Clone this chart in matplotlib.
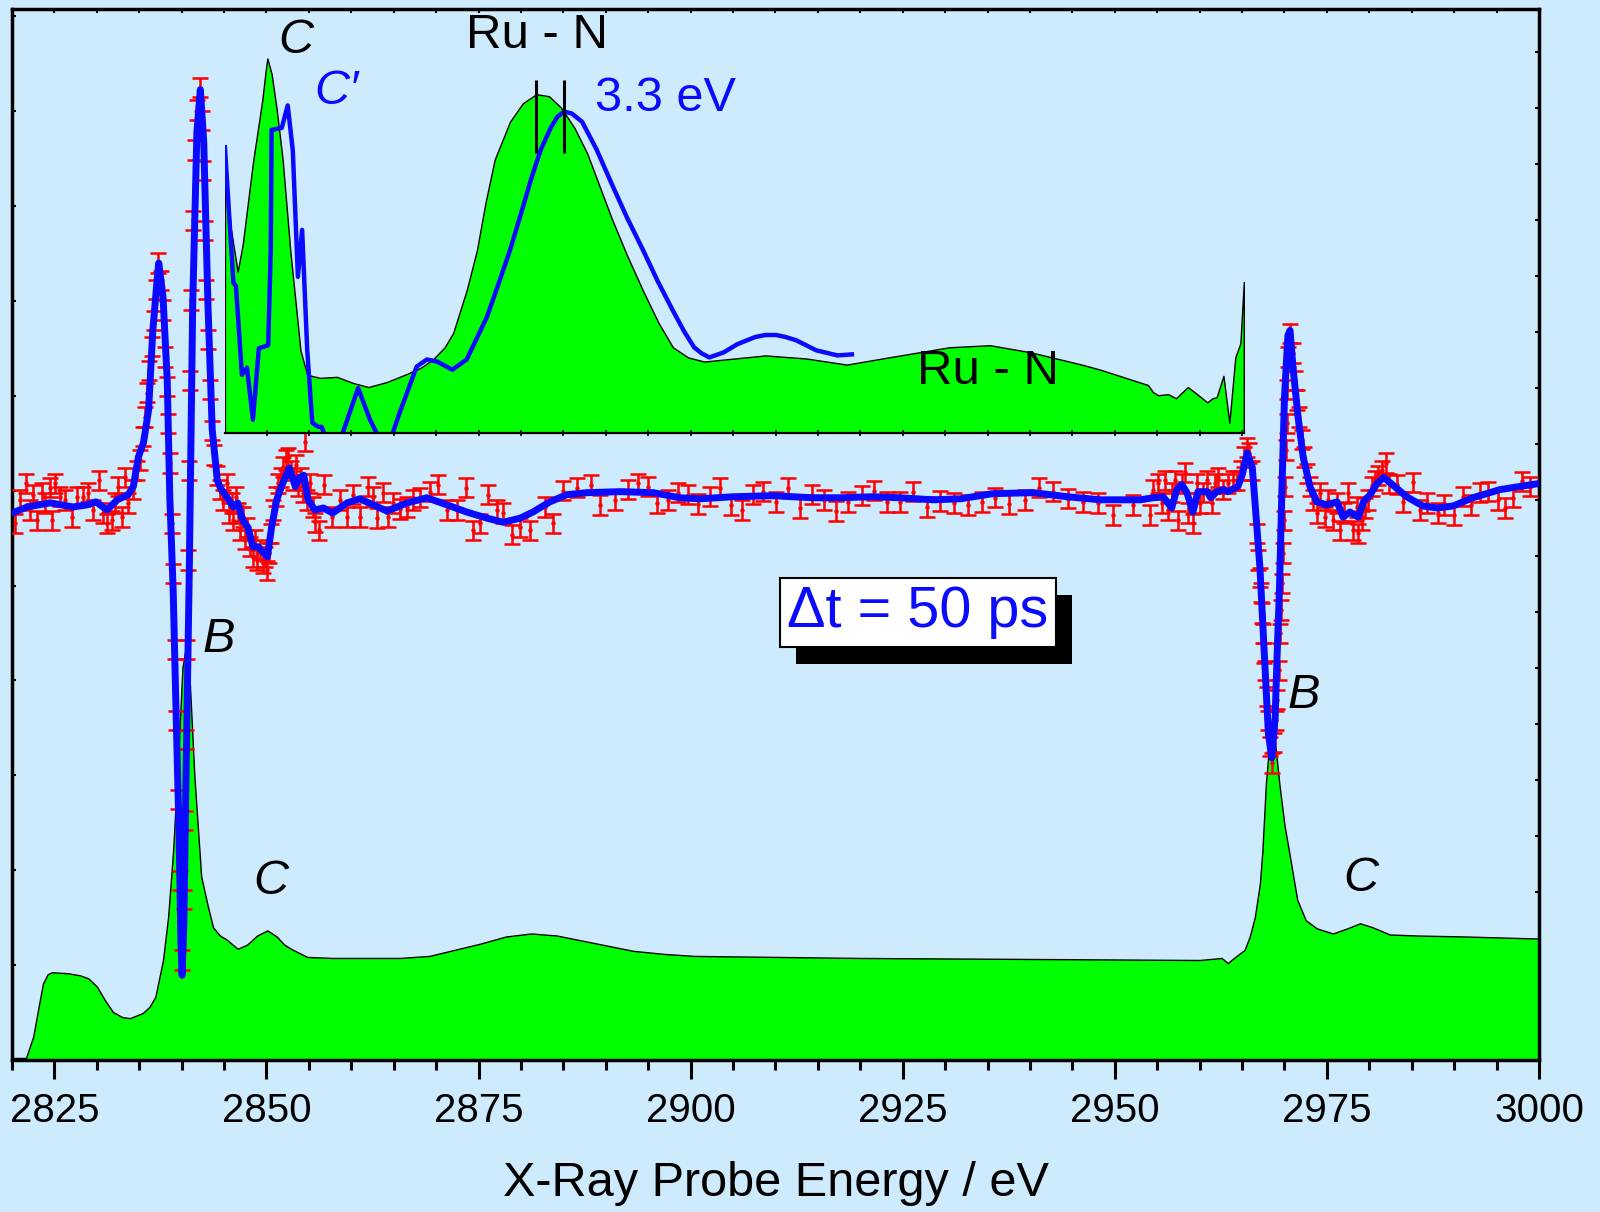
import numpy as np
import matplotlib.pyplot as plt
from matplotlib.ticker import MultipleLocator
import matplotlib.patheffects as pe

plt.rcParams['font.family'] = ['Liberation Sans', 'DejaVu Sans']

BG = '#cdebfc'
GREEN = '#00ff00'
BLUE = '#0a0aff'
RED = '#ff0000'

# ground state spectrum (main axes)
gs_e = [2820.0, 2821.65, 2822.5, 2823.2, 2823.65, 2824.2, 2824.7, 2826.6, 2828.0, 2829.0,
        2830.0, 2831.0, 2831.9, 2833.0, 2833.9, 2835.4, 2836.2, 2836.9, 2837.8, 2838.4,
        2839.0, 2839.6, 2840.1, 2840.5, 2840.9, 2841.5, 2842.3, 2843.1, 2843.7, 2844.5,
        2845.3, 2846.6, 2847.7, 2848.9, 2850.1, 2851.2, 2852.1, 2853.1, 2854.8, 2857.8,
        2865.7, 2869.2, 2872.2, 2875.2, 2878.2, 2881.2, 2884.2, 2887.2, 2890.2, 2893.2,
        2896.8, 2900.4, 2920.0, 2940.0, 2960.0, 2962.6, 2963.3, 2964.2, 2965.3, 2965.9,
        2966.5, 2967.1, 2967.4, 2967.8, 2968.2, 2968.5, 2968.9, 2969.4, 2970.0, 2970.5,
        2971.5, 2972.5, 2973.8, 2975.7, 2977.4, 2978.9, 2980.4, 2982.4, 2985.6, 2991.5,
        3000.0]
gs_y = [0.02, 0.02, 0.23, 0.55, 0.75, 0.84, 0.86, 0.85, 0.83, 0.80,
        0.72, 0.58, 0.47, 0.42, 0.41, 0.46, 0.52, 0.62, 0.98, 1.40,
        2.06, 3.00, 3.85, 4.05, 3.80, 2.78, 1.80, 1.50, 1.30, 1.22,
        1.18, 1.09, 1.13, 1.22, 1.27, 1.21, 1.13, 1.08, 1.01, 1.00,
        1.00, 1.02, 1.08, 1.14, 1.21, 1.24, 1.22, 1.17, 1.12, 1.07,
        1.04, 1.02, 1.00, 0.99, 0.98, 1.00, 0.95, 1.01, 1.08, 1.21,
        1.40, 1.73, 2.06, 2.70, 3.10, 3.28, 3.10, 2.70, 2.30, 2.06,
        1.57, 1.37, 1.29, 1.24, 1.29, 1.34, 1.30, 1.23, 1.22, 1.21,
        1.19]

# ground state, magnified (inset)
gsz_e = [2845.1, 2845.8, 2846.6, 2847.2, 2848.4, 2849.5, 2849.9, 2850.1, 2850.6, 2851.2,
         2851.9, 2852.8, 2854.0, 2854.8, 2856.3, 2858.3, 2860.2, 2862.0, 2864.2, 2866.6,
         2868.2, 2869.6, 2871.0, 2872.0, 2873.6, 2874.8, 2875.8, 2876.9, 2878.7, 2880.2,
         2881.8, 2883.3, 2884.7, 2886.3, 2887.8, 2890.7, 2892.5, 2894.4, 2896.2, 2897.9,
         2899.7, 2901.6, 2905.2, 2908.8, 2913.6, 2918.4, 2923.3, 2930.5, 2935.3, 2940.1,
         2946.1, 2948.3, 2953.9, 2954.5, 2955.1, 2956.3, 2957.2, 2958.6, 2959.7, 2960.9,
         2961.5, 2962.0, 2962.8, 2963.5, 2964.2, 2964.8, 2965.2]
gsz_y = [2.65, 2.00, 1.58, 1.85, 2.65, 3.26, 3.55, 3.67, 3.52, 3.17,
         2.68, 1.79, 0.81, 0.57, 0.54, 0.55, 0.49, 0.45, 0.50, 0.58,
         0.64, 0.72, 0.84, 0.98, 1.40, 1.79, 2.25, 2.68, 3.05, 3.23,
         3.32, 3.30, 3.19, 2.99, 2.74, 2.10, 1.74, 1.39, 1.08, 0.84,
         0.74, 0.70, 0.73, 0.76, 0.73, 0.67, 0.74, 0.84, 0.86, 0.79,
         0.67, 0.62, 0.47, 0.40, 0.37, 0.38, 0.34, 0.45, 0.38, 0.30,
         0.34, 0.35, 0.56, 0.10, 0.74, 0.88, 1.48]

# excited state (shifted) spectrum, inset
exz_e = [2845.1, 2846.1, 2846.4, 2847.1, 2847.7, 2848.4, 2849.1, 2850.2, 2850.5, 2850.6,
         2851.8, 2852.5, 2853.1, 2853.7, 2854.2, 2854.8, 2855.4, 2856.1, 2856.5, 2857.1,
         2857.8, 2858.7, 2860.8, 2862.2, 2863.4, 2864.0, 2864.6, 2865.7, 2867.7, 2868.9,
         2870.1, 2871.9, 2873.6, 2876.0, 2877.3, 2878.7, 2880.0, 2881.2, 2882.3, 2883.5,
         2884.3, 2885.1, 2886.0, 2887.2, 2888.9, 2890.7, 2892.5, 2894.4, 2896.1, 2897.9,
         2899.2, 2900.4, 2901.3, 2902.2, 2903.9, 2905.5, 2907.6, 2908.8, 2910.1, 2911.2,
         2912.4, 2914.8, 2917.3, 2919.0]
exz_y = [2.80, 1.47, 1.44, 0.57, 0.64, 0.13, 0.83, 0.86, 1.79, 2.97,
         2.99, 3.21, 2.77, 1.53, 1.99, 0.81, 0.10, 0.06, 0.06, -0.07,
         -0.26, -0.07, 0.44, 0.13, -0.07, -0.26, -0.07, 0.20, 0.65, 0.72,
         0.70, 0.62, 0.72, 1.14, 1.45, 1.79, 2.15, 2.49, 2.77, 2.99,
         3.10, 3.15, 3.13, 3.05, 2.78, 2.44, 2.11, 1.79, 1.49, 1.20,
         1.00, 0.84, 0.78, 0.74, 0.79, 0.87, 0.94, 0.96, 0.96, 0.94,
         0.91, 0.81, 0.76, 0.77]
peak_marks = [2881.8, 2885.1]

# transient fit
fit_e = [2820.0, 2821.8, 2824.5, 2827.2, 2828.8, 2829.9, 2831.2, 2832.4, 2833.7, 2834.3,
         2834.9, 2835.5, 2836.1, 2836.6, 2837.1, 2837.3, 2837.8, 2838.3, 2838.6, 2839.0,
         2839.4, 2839.7, 2839.9, 2840.05, 2840.25, 2840.5, 2840.9, 2841.3, 2841.8, 2842.2,
         2842.6, 2843.1, 2843.6, 2844.2, 2844.6, 2845.3, 2846.1, 2846.6, 2847.2, 2847.8,
         2848.4, 2849.0, 2850.1, 2850.6, 2851.2, 2851.9, 2852.7, 2853.4, 2853.9, 2854.4,
         2854.9, 2855.7, 2856.7, 2857.8, 2859.5, 2861.0, 2862.6, 2864.2, 2866.6, 2868.9,
         2871.3, 2873.6, 2876.0, 2877.9, 2879.9, 2881.4, 2883.4, 2885.4, 2887.8, 2891.7,
         2895.6, 2898.7, 2901.1, 2905.0, 2909.7, 2914.4, 2917.6, 2921.5, 2924.7, 2928.6,
         2931.8, 2935.6, 2940.4, 2944.4, 2948.3, 2953.0, 2954.5, 2955.7, 2956.7, 2957.3,
         2957.9, 2958.5, 2959.2, 2959.8, 2960.9, 2961.3, 2962.0, 2962.8, 2963.3, 2964.5,
         2965.0, 2965.6, 2966.2, 2966.5, 2967.1, 2967.7, 2968.1, 2968.5, 2968.9, 2969.1,
         2969.4, 2969.7, 2970.0, 2970.4, 2970.65, 2971.0, 2971.6, 2972.2, 2973.0, 2973.8,
         2975.0, 2976.2, 2976.9, 2977.7, 2978.7, 2979.3, 2980.1, 2980.9, 2981.7, 2982.7,
         2984.4, 2986.3, 2988.0, 2989.9, 2992.2, 2995.4, 2999.3, 3000.0]
fit_y = [5.36, 5.42, 5.46, 5.42, 5.44, 5.47, 5.39, 5.49, 5.54, 5.62,
         5.91, 6.05, 6.37, 7.15, 7.64, 7.81, 7.48, 6.66, 5.52, 4.60,
         3.20, 2.20, 1.20, 0.83, 1.30, 2.70, 4.80, 7.40, 9.10, 9.51,
         9.00, 7.40, 6.18, 5.68, 5.60, 5.52, 5.42, 5.46, 5.29, 5.22,
         5.03, 5.03, 4.93, 5.22, 5.49, 5.65, 5.80, 5.62, 5.71, 5.73,
         5.49, 5.39, 5.41, 5.36, 5.46, 5.50, 5.44, 5.38, 5.46, 5.51,
         5.44, 5.37, 5.31, 5.27, 5.31, 5.37, 5.47, 5.54, 5.56, 5.57,
         5.56, 5.51, 5.50, 5.52, 5.53, 5.51, 5.51, 5.52, 5.51, 5.49,
         5.50, 5.55, 5.56, 5.52, 5.49, 5.49, 5.51, 5.52, 5.41, 5.59,
         5.64, 5.56, 5.37, 5.57, 5.57, 5.51, 5.57, 5.59, 5.57, 5.62,
         5.73, 5.95, 5.81, 5.49, 4.83, 3.85, 3.20, 2.96, 3.36, 3.90,
         4.60, 5.60, 6.50, 7.10, 7.15, 6.79, 6.30, 5.91, 5.62, 5.47,
         5.44, 5.47, 5.32, 5.37, 5.32, 5.47, 5.54, 5.65, 5.71, 5.64,
         5.52, 5.43, 5.41, 5.43, 5.51, 5.59, 5.64, 5.65]

# transient data points
dat_e = [2820.35, 2820.94, 2821.65, 2822.12, 2822.48, 2822.95, 2823.54, 2823.89, 2824.48, 2824.72,
         2825.07, 2825.66, 2826.25, 2827.07, 2827.66, 2828.37, 2828.96, 2829.55, 2830.26, 2830.73,
         2831.20, 2831.79, 2832.14, 2832.50, 2832.97, 2833.32, 2833.67, 2834.26, 2834.74, 2835.09,
         2835.44, 2835.68, 2835.91, 2836.15, 2836.50, 2836.74, 2836.97, 2837.21, 2837.56, 2837.80,
         2838.04, 2838.27, 2838.39, 2838.63, 2838.86, 2838.98, 2839.22, 2839.33, 2839.57, 2839.80,
         2840.04, 2840.27, 2840.39, 2840.51, 2840.63, 2840.75, 2840.87, 2840.98, 2841.10, 2841.34,
         2841.57, 2841.81, 2842.16, 2842.40, 2842.52, 2842.75, 2842.87, 2843.11, 2843.34, 2843.58,
         2843.81, 2844.17, 2844.52, 2844.87, 2845.34, 2845.58, 2845.93, 2846.05, 2846.41, 2846.64,
         2846.88, 2847.23, 2847.47, 2847.70, 2848.06, 2848.41, 2848.65, 2848.88, 2849.24, 2849.59,
         2849.82, 2850.06, 2850.30, 2850.53, 2850.77, 2851.12, 2851.36, 2851.71, 2851.95, 2852.30,
         2852.54, 2852.89, 2853.12, 2853.48, 2853.71, 2854.07, 2854.30, 2854.54, 2854.78, 2855.13,
         2855.48, 2855.72,
         2856.2, 2856.8, 2857.7, 2858.7, 2859.5, 2860.2, 2861.0, 2862.0, 2862.6, 2863.0,
         2863.7, 2864.3, 2864.9, 2865.7, 2866.6, 2867.3, 2868.1, 2869.3, 2870.2, 2871.3,
         2872.5, 2873.5, 2874.3, 2875.2, 2876.1, 2877.2, 2877.9, 2878.9, 2879.9, 2881.1,
         2882.8, 2883.8, 2885.0, 2886.6, 2888.3, 2889.3, 2891.1, 2892.6, 2893.8, 2895.0,
         2896.0, 2897.3, 2898.5, 2899.7, 2900.9, 2902.3, 2903.5, 2904.8, 2906.1, 2907.4,
         2908.5, 2910.1, 2911.5, 2912.9, 2914.3, 2915.7, 2917.1, 2918.5, 2920.2, 2921.6,
         2923.1, 2924.7, 2926.2, 2927.9, 2929.4, 2931.1, 2932.7, 2934.3, 2935.9, 2937.5,
         2939.4, 2941.1, 2942.7, 2944.5, 2946.3, 2948.0, 2949.8, 2952.15,
         2954.15, 2954.51, 2955.10, 2955.57, 2955.92, 2956.27, 2956.74, 2957.10, 2957.45, 2957.92,
         2958.27, 2958.63, 2959.22, 2959.69, 2960.04, 2960.40, 2960.87, 2961.46, 2961.81, 2962.17,
         2962.76, 2963.35, 2963.94, 2964.41, 2964.88, 2965.23, 2965.58, 2965.82, 2966.17, 2966.77,
         2966.89, 2967.12, 2967.24, 2967.36, 2967.47, 2967.59, 2967.71, 2967.94, 2968.06, 2968.30,
         2968.53, 2968.77, 2969.00, 2969.12, 2969.36, 2969.47, 2969.59, 2969.71, 2969.83, 2969.95,
         2970.06, 2970.18, 2970.24, 2970.30, 2970.42, 2970.65, 2971.01, 2971.24, 2971.48, 2971.72,
         2972.07, 2972.31, 2972.66, 2973.01, 2973.37, 2973.84, 2974.19, 2974.78, 2975.14, 2975.73,
         2976.20, 2976.55, 2977.02, 2977.49, 2978.08, 2978.55, 2978.67, 2979.14, 2979.49, 2979.85,
         2980.32, 2980.67, 2981.03, 2981.50, 2981.97, 2982.33,
         2983.3, 2984.0, 2985.2, 2986.0, 2986.8, 2988.1, 2988.8, 2990.0, 2991.0, 2992.0,
         2993.0, 2994.0, 2995.2, 2996.0, 2996.9, 2998.0, 2998.9]
dat_y = [5.26, 5.49, 5.65, 5.39, 5.54, 5.29, 5.56, 5.46, 5.61, 5.29,
         5.65, 5.52, 5.49, 5.32, 5.52, 5.52, 5.56, 5.39, 5.68, 5.36,
         5.26, 5.29, 5.46, 5.62, 5.32, 5.71, 5.46, 5.59, 5.78, 5.88,
         6.11, 6.30, 6.54, 6.76, 6.99, 7.25, 7.55, 7.81, 7.64, 7.35,
         6.89, 6.60, 6.24, 5.85, 5.26, 4.77, 4.02, 3.33, 2.55, 1.76,
         0.98, 1.57, 2.35, 3.14, 4.02, 4.90, 5.78, 6.66, 7.45, 8.23,
         8.92, 9.31, 9.53, 9.21, 8.72, 8.13, 7.55, 7.06, 6.57, 6.17,
         5.93, 5.73, 5.59, 5.49, 5.65, 5.36, 5.46, 5.29, 5.52, 5.36,
         5.19, 5.32, 5.10, 5.22, 5.03, 4.93, 5.10, 4.90, 5.00, 4.87,
         4.93, 4.80, 4.97, 5.16, 5.39, 5.52, 5.65, 5.71, 5.81, 5.88,
         5.90, 5.78, 5.68, 5.83, 5.62, 5.71, 5.56, 6.06, 5.49, 5.65,
         5.42, 5.27,
         5.19, 5.64, 5.32, 5.49, 5.32, 5.54, 5.32, 5.62, 5.52, 5.31,
         5.56, 5.32, 5.46, 5.40, 5.42, 5.49, 5.51, 5.57, 5.64, 5.39,
         5.39, 5.61, 5.19, 5.26, 5.54, 5.39, 5.36, 5.15, 5.22, 5.19,
         5.42, 5.26, 5.58, 5.61, 5.64, 5.44, 5.49, 5.59, 5.65, 5.62,
         5.46, 5.49, 5.56, 5.54, 5.45, 5.52, 5.61, 5.44, 5.39, 5.54,
         5.57, 5.47, 5.61, 5.41, 5.54, 5.49, 5.38, 5.47, 5.53, 5.58,
         5.47, 5.47, 5.57, 5.42, 5.48, 5.46, 5.44, 5.47, 5.51, 5.45,
         5.49, 5.61, 5.57, 5.50, 5.47, 5.46, 5.34, 5.44,
         5.34, 5.59, 5.65, 5.46, 5.68, 5.39, 5.56, 5.68, 5.29, 5.65,
         5.76, 5.36, 5.26, 5.65, 5.46, 5.56, 5.68, 5.46, 5.65, 5.71,
         5.59, 5.65, 5.68, 5.68, 5.78, 5.91, 6.00, 5.95, 5.78, 5.16,
         4.90, 4.73, 4.58, 4.38, 4.18, 3.99, 3.82, 3.56, 3.33, 3.07,
         2.91, 3.11, 3.33, 3.53, 3.82, 4.18, 4.41, 4.67, 4.97, 5.29,
         5.62, 5.98, 6.24, 6.57, 6.89, 7.12, 6.93, 6.66, 6.47, 6.30,
         6.08, 5.91, 5.75, 5.62, 5.49, 5.36, 5.56, 5.32, 5.49, 5.29,
         5.46, 5.19, 5.36, 5.56, 5.19, 5.42, 5.16, 5.29, 5.41, 5.49,
         5.62, 5.68, 5.73, 5.78, 5.85, 5.65,
         5.64, 5.47, 5.66, 5.39, 5.46, 5.36, 5.44, 5.34, 5.52, 5.44,
         5.56, 5.57, 5.49, 5.41, 5.51, 5.67, 5.62]
dat_err = 0.095

fig = plt.figure(figsize=(16, 12.12), dpi=100)
fig.patch.set_facecolor(BG)
ax = fig.add_axes([12 / 1600, 1 - 1060 / 1212, 1527 / 1600, 1051 / 1212])
ax.set_facecolor(BG)

ax.fill_between(gs_e, gs_y, 0, facecolor=GREEN, edgecolor='black', linewidth=1.0, zorder=2)
ax.errorbar(dat_e, dat_y, yerr=dat_err, fmt='o', color=RED, ms=2.2, elinewidth=1.8,
            capsize=5.5, capthick=1.8, zorder=3)
ax.plot(fit_e, fit_y, color=BLUE, lw=5, solid_joinstyle='round', solid_capstyle='round',
        zorder=4)

ax.set_xlim(2820, 3000)
ax.set_ylim(0, 10.30)
ax.xaxis.set_major_locator(MultipleLocator(25))
ax.xaxis.set_minor_locator(MultipleLocator(5))
ax.tick_params(axis='x', which='major', direction='out', length=14, width=2.2,
               labelsize=29, pad=9)
ax.tick_params(axis='x', which='minor', direction='out', length=7, width=2.2)
ax.yaxis.set_major_locator(MultipleLocator(0.93))
ax.tick_params(axis='y', direction='in', length=3, width=1.5, labelleft=False)
for s in ax.spines.values():
    s.set_linewidth(2.5)

top = ax.secondary_xaxis('top')
top.xaxis.set_major_locator(MultipleLocator(5))
top.tick_params(direction='in', length=3, width=1.5, labeltop=False)
right = ax.secondary_yaxis('right')
right.yaxis.set_major_locator(MultipleLocator(0.549))
right.tick_params(direction='in', length=3, width=1.5, labelright=False)

fig.text(776 / 1600, 1 - 1184 / 1212, 'X-Ray Probe Energy / eV', fontsize=35,
         ha='center', va='center')

# inset: magnified ground state and shifted excited state
axi = ax.inset_axes([2845.1, 6.145, 120.1, 4.155], transform=ax.transData, zorder=5)
axi.patch.set_alpha(0)
axi.fill_between(gsz_e, gsz_y, 0, facecolor=GREEN, edgecolor='black', linewidth=1.0)
axi.plot(exz_e, exz_y, color=BLUE, lw=3.2, solid_joinstyle='round')
axi.vlines(peak_marks, 2.74, 3.46, color='black', lw=2.2)
axi.set_xlim(2845.1, 2965.2)
axi.set_ylim(0, 4.155)
for s in ['top', 'left', 'right']:
    axi.spines[s].set_visible(False)
axi.spines['bottom'].set_linewidth(1.6)
axi.set_yticks([])
axi.xaxis.set_major_locator(MultipleLocator(5))
axi.tick_params(axis='x', direction='inout', length=4, width=1.2, labelbottom=False)
axi.text(2935.1, 0.60, 'Ru - N', fontsize=35.5, ha='center', va='center')

ax.text(2881.9, 10.04, 'Ru - N', fontsize=35.5, ha='center', va='center', zorder=6)
ax.text(2897.0, 9.42, '3.3 eV', fontsize=35, color=BLUE, ha='center', va='center', zorder=6)
ax.text(2853.5, 9.99, 'C', fontsize=35, style='italic', ha='center', va='center', zorder=6)
ax.text(2858.3, 9.49, 'C\u2032', fontsize=35, style='italic', color=BLUE, ha='center',
        va='center', zorder=6)
ax.text(2844.4, 4.12, 'B', fontsize=35, style='italic', ha='center', va='center', zorder=6)
ax.text(2972.3, 3.57, 'B', fontsize=35, style='italic', ha='center', va='center', zorder=6)
ax.text(2850.5, 1.75, 'C', fontsize=35, style='italic', ha='center', va='center', zorder=6)
ax.text(2979.0, 1.78, 'C', fontsize=35, style='italic', ha='center', va='center', zorder=6)

t = ax.text(2926.8, 4.39, '\u0394t = 50 ps', fontsize=41.5, color=BLUE, ha='center',
            va='center', zorder=7,
            bbox=dict(boxstyle='square,pad=0.13', fc='white', ec='black', lw=1.5))
t.get_bbox_patch().set_path_effects([
    pe.SimplePatchShadow(offset=(11.5, -12.5), shadow_rgbFace='black', alpha=1.0),
    pe.Normal()])

fig.savefig('out.png', dpi=100, facecolor=BG)
